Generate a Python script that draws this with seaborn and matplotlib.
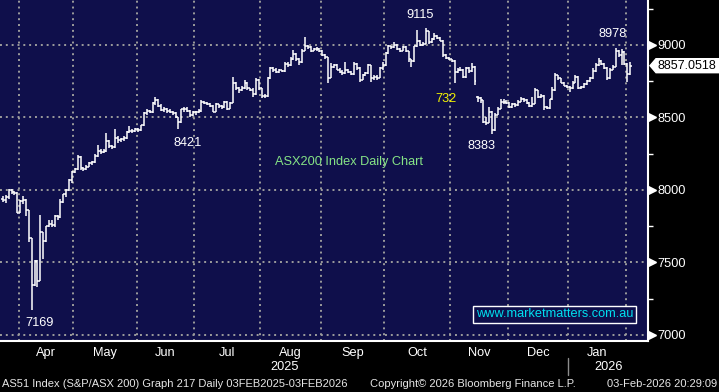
import numpy as np
import pandas as pd
import matplotlib
matplotlib.use("Agg")
import matplotlib.pyplot as plt
import matplotlib.transforms as mtransforms
from matplotlib.patches import Polygon
import seaborn as sns

# ASX trading sessions shown on the chart (24 Mar 2025 - 3 Feb 2026)
start_date = "2025-03-24"
end_date = "2026-02-03"
asx_holidays = ["2025-04-18", "2025-04-21", "2025-04-25", "2025-06-09",
                "2025-12-25", "2025-12-26", "2026-01-01", "2026-01-26"]

# daily OHLC (one row per month)
opens = [
    7940, 7930, 7950, 7999, 7985, 7980,
    7843, 7925, 7934, 7859, 7667, 7344, 7510, 7375, 7709, 7646, 7749, 7762, 7758, 7819, 7816, 7920, 7969, 7997, 8071,
    8126, 8145, 8230, 8150, 8145, 8160, 8185, 8190, 8235, 8270, 8265, 8270, 8340, 8300, 8295, 8360, 8345, 8350, 8355, 8400, 8410, 8405,
    8420, 8415, 8445, 8530, 8545, 8540, 8600, 8620, 8580, 8550, 8560, 8545, 8540, 8530, 8500, 8470, 8555, 8560, 8545, 8515,
    8540, 8535, 8545, 8610, 8600, 8595, 8580, 8540, 8590, 8580, 8570, 8610, 8560, 8600, 8740, 8700, 8690, 8700, 8740, 8700, 8690, 8660, 8760,
    8700, 8650, 8645, 8770, 8840, 8830, 8815, 8825, 8820, 8870, 8860, 8900, 8940, 8900, 8880, 8960, 8990, 8985, 8960, 8970, 8975,
    8960, 8930, 8915, 8775, 8850, 8865, 8830, 8815, 8805, 8830, 8815, 8800, 8870, 8840, 8760, 8790, 8810, 8860, 8770, 8780, 8775, 8840,
    8860, 8945, 8990, 8985, 9000, 8975, 8960, 8985, 8960, 8900, 8890, 8990, 9030, 9000, 9010, 9095, 9020, 9040, 9060, 9050, 9030, 8930, 8910,
    8900, 8890, 8815, 8830, 8830, 8780, 8840, 8820, 8850, 8640, 8635, 8620, 8470, 8465, 8540, 8415, 8520, 8560, 8610, 8610,
    8600, 8570, 8590, 8585, 8610, 8630, 8620, 8600, 8580, 8595, 8690, 8640, 8650, 8570, 8565, 8625, 8690, 8790, 8770, 8740, 8720,
    8710, 8700, 8740, 8780, 8700, 8710, 8730, 8750, 8770, 8820, 8860, 8890, 8870, 8840, 8770, 8830, 8850, 8960, 8930, 8950,
    8870, 8800,
]
highs = [
    7960, 7965, 8005, 8005, 7995, 7988,
    7930, 7960, 7940, 7860, 7667, 7520, 7520, 7830, 7710, 7755, 7790, 7795, 7825, 7830, 7935, 7975, 8010, 8075, 8130,
    8150, 8238, 8232, 8160, 8170, 8195, 8200, 8245, 8310, 8280, 8285, 8393, 8345, 8310, 8420, 8370, 8360, 8370, 8410, 8440, 8420, 8430,
    8430, 8450, 8535, 8555, 8552, 8610, 8641, 8625, 8590, 8570, 8565, 8555, 8545, 8535, 8505, 8560, 8575, 8570, 8550, 8545,
    8545, 8560, 8620, 8615, 8605, 8600, 8585, 8600, 8595, 8585, 8615, 8612, 8610, 8780, 8745, 8710, 8715, 8760, 8745, 8705, 8700, 8772, 8765,
    8705, 8660, 8780, 8850, 8848, 8840, 8835, 8830, 8880, 8885, 8915, 8966, 8945, 8910, 8970, 9054, 9000, 8990, 8980, 8985, 8980,
    8965, 8935, 8920, 8876, 8870, 8870, 8840, 8825, 8880, 8835, 8820, 8883, 8875, 8845, 8800, 8815, 8870, 8865, 8795, 8790, 8850, 8885,
    8950, 9000, 8995, 9020, 9005, 8980, 8995, 8990, 8960, 8905, 8995, 9103, 9035, 9020, 9115, 9095, 9050, 9083, 9070, 9055, 9035, 8935, 8915,
    8905, 8895, 8840, 8845, 8835, 8848, 8845, 8876, 8855, 8645, 8640, 8620, 8500, 8572, 8545, 8530, 8570, 8625, 8630, 8620,
    8610, 8600, 8600, 8620, 8640, 8635, 8625, 8605, 8640, 8703, 8690, 8660, 8655, 8580, 8630, 8710, 8807, 8795, 8775, 8745, 8725,
    8715, 8750, 8790, 8785, 8720, 8740, 8760, 8780, 8841, 8876, 8910, 8895, 8875, 8845, 8840, 8865, 8978, 8965, 8975, 8955,
    8875, 8883,
]
lows = [
    7915, 7910, 7940, 7970, 7965, 7839,
    7840, 7900, 7820, 7640, 7169, 7340, 7330, 7375, 7524, 7640, 7745, 7745, 7745, 7790, 7807, 7910, 7950, 7990, 8050,
    8120, 8140, 8138, 8130, 8140, 8155, 8170, 8185, 8228, 8250, 8255, 8265, 8290, 8285, 8290, 8324, 8331, 8340, 8350, 8395, 8395, 8400,
    8400, 8410, 8440, 8520, 8530, 8531, 8586, 8575, 8545, 8540, 8531, 8531, 8520, 8495, 8421, 8465, 8540, 8540, 8503, 8510,
    8520, 8530, 8540, 8590, 8585, 8570, 8538, 8535, 8565, 8560, 8565, 8552, 8555, 8600, 8690, 8670, 8680, 8695, 8690, 8680, 8641, 8655, 8690,
    8634, 8635, 8640, 8765, 8814, 8810, 8810, 8814, 8815, 8845, 8855, 8895, 8890, 8862, 8875, 8960, 8970, 8952, 8955, 8960, 8950,
    8925, 8905, 8738, 8770, 8841, 8825, 8810, 8793, 8800, 8805, 8793, 8795, 8830, 8745, 8755, 8785, 8800, 8745, 8760, 8759, 8770, 8830,
    8855, 8940, 8975, 8980, 8965, 8950, 8955, 8950, 8883, 8848, 8885, 8986, 8990, 8995, 9005, 9010, 9015, 9035, 9040, 9025, 8917, 8900, 8895,
    8880, 8738, 8810, 8820, 8772, 8775, 8810, 8815, 8724, 8607, 8600, 8462, 8448, 8460, 8383, 8410, 8515, 8555, 8595, 8590,
    8566, 8565, 8575, 8580, 8605, 8610, 8595, 8575, 8575, 8590, 8635, 8635, 8552, 8555, 8560, 8620, 8685, 8760, 8735, 8715, 8700,
    8676, 8695, 8735, 8695, 8695, 8705, 8725, 8745, 8765, 8815, 8855, 8865, 8835, 8759, 8765, 8825, 8845, 8917, 8862, 8862,
    8745, 8795,
]
closes = [
    7930, 7950, 7999, 7985, 7980, 7843,
    7925, 7934, 7859, 7667, 7344, 7510, 7375, 7709, 7646, 7749, 7762, 7758, 7819, 7816, 7920, 7969, 7997, 8071, 8126,
    8145, 8230, 8150, 8145, 8160, 8185, 8190, 8235, 8270, 8265, 8270, 8340, 8300, 8295, 8360, 8345, 8350, 8355, 8400, 8410, 8405, 8420,
    8415, 8445, 8530, 8545, 8540, 8600, 8620, 8580, 8550, 8560, 8545, 8540, 8530, 8500, 8470, 8555, 8560, 8545, 8515, 8540,
    8535, 8545, 8610, 8600, 8595, 8580, 8540, 8590, 8580, 8570, 8610, 8560, 8600, 8740, 8700, 8690, 8700, 8740, 8700, 8690, 8660, 8760, 8700,
    8650, 8645, 8770, 8840, 8830, 8815, 8825, 8820, 8870, 8860, 8900, 8940, 8900, 8880, 8960, 8990, 8985, 8960, 8970, 8975, 8960,
    8930, 8915, 8775, 8850, 8865, 8830, 8815, 8805, 8830, 8815, 8800, 8870, 8840, 8760, 8790, 8810, 8860, 8770, 8780, 8775, 8840, 8860,
    8945, 8990, 8985, 9000, 8975, 8960, 8985, 8960, 8900, 8890, 8990, 9030, 9000, 9010, 9095, 9020, 9040, 9060, 9050, 9030, 8930, 8910, 8900,
    8890, 8815, 8830, 8830, 8780, 8840, 8820, 8850, 8750, 8635, 8620, 8470, 8465, 8540, 8415, 8520, 8560, 8610, 8610, 8600,
    8570, 8590, 8585, 8610, 8630, 8620, 8600, 8580, 8595, 8690, 8640, 8650, 8570, 8565, 8625, 8690, 8790, 8770, 8740, 8720, 8710,
    8700, 8740, 8780, 8700, 8710, 8730, 8750, 8770, 8820, 8860, 8890, 8870, 8840, 8770, 8830, 8850, 8960, 8930, 8950, 8870,
    8800, 8857.0518,
]

price_levels = [7000, 7500, 8000, 8500, 9000]
minor_levels = [7250, 7750, 8250, 8750, 9250]

navy = "#0f0f4b"
grid_grey = "#9c9c9c"

sns.set_theme(style="dark", rc={
    "axes.facecolor": navy,
    "figure.facecolor": "black",
    "savefig.facecolor": "black",
    "text.color": "white",
})
plt.rcParams["font.family"] = ["Liberation Sans", "DejaVu Sans"]

dates = pd.bdate_range(start_date, end_date)
dates = dates[~dates.isin(pd.to_datetime(asx_holidays))]
df = pd.DataFrame({"date": dates, "open": opens, "high": highs,
                   "low": lows, "close": closes})
df["idx"] = np.arange(len(df))
df["month"] = df["date"].dt.to_period("M")

fig = plt.figure(figsize=(7.19, 3.92), dpi=100)
ax = fig.add_axes([0, 51 / 392, 648 / 719, 341 / 392])
ax.set_xlim(-1.0, 224.2)
ax.set_ylim(6958.6, 9310)

# OHLC bars
x = df["idx"].to_numpy()
ax.vlines(x, df["low"], df["high"], color="white", lw=1.1, zorder=3)
ax.hlines(df["open"], x - 0.5, x, color="white", lw=1.1, zorder=3)
ax.hlines(df["close"], x, x + 0.5, color="white", lw=1.1, zorder=3)

# month boundaries / labels
first_idx = df.groupby("month")["idx"].min()
bounds = (first_idx.iloc[1:] - 0.5).to_numpy()
mids = (bounds[:-1] + bounds[1:]) / 2
month_names = [p.strftime("%b") for p in first_idx.index[1:-1]]

ax.set_xticks(bounds, labels=[""] * len(bounds))
ax.set_xticks(mids, labels=month_names, minor=True)
ax.set_yticks(price_levels, labels=[str(v) for v in price_levels])
ax.set_yticks(minor_levels, minor=True)
ax.yaxis.tick_right()

ax.grid(True, which="major", color=grid_grey, linestyle=(0, (1, 2)), linewidth=1.4)
ax.grid(False, which="minor")
ax.set_axisbelow(True)

ax.tick_params(axis="y", which="major", length=0, pad=6.5, labelsize=9.2, labelcolor="white")
ax.tick_params(axis="y", which="minor", length=3.6, width=1, color="white", direction="out")
ax.tick_params(axis="x", which="major", length=3, width=1.2, color="white", direction="out")
ax.tick_params(axis="x", which="minor", length=0, pad=4, labelsize=9.2, labelcolor="white")

for side in ["top", "left"]:
    ax.spines[side].set_visible(False)
for side in ["right", "bottom"]:
    ax.spines[side].set_visible(True)
    ax.spines[side].set_color("white")
    ax.spines[side].set_linewidth(1.5)

# arrow heads at the major price levels
tri_trans = mtransforms.offset_copy(ax.get_yaxis_transform(), fig=fig, x=4, units="dots")
ax.plot(np.ones(len(price_levels)), price_levels, ls="none", marker=">", ms=6,
        color="white", transform=tri_trans, clip_on=False)

# year labels under the month labels
xlo, xhi = ax.get_xlim()
jan_bound = bounds[list(first_idx.index[1:]).index(pd.Period("2026-01", "M"))]
ax.text((xlo + jan_bound) / 2, -0.076, "2025", transform=ax.get_xaxis_transform(),
        ha="center", va="center", fontsize=9.2, color="white")
ax.text((jan_bound + xhi) / 2, -0.076, "2026", transform=ax.get_xaxis_transform(),
        ha="center", va="center", fontsize=9.2, color="white")
ax.plot([jan_bound, jan_bound], [-0.05, -0.1], color="#8c8c8c", lw=1,
        transform=ax.get_xaxis_transform(), clip_on=False)

# high / low annotations
def mark(row, value, dx, dy):
    ax.annotate(f"{value:.0f}", xy=(row["idx"], value), xytext=(dx, dy),
                textcoords="offset pixels", ha="center", va="center",
                fontsize=9.2, color="white")

top = df.loc[df["high"].idxmax()]
mark(top, top["high"], -6, 13)
jan = df[df["month"] == pd.Period("2026-01", "M")]
top_jan = jan.loc[jan["high"].idxmax()]
mark(top_jan, top_jan["high"], -3, 14)
midyear = df[(df["date"] >= "2025-06-16") & (df["date"] <= "2025-07-31")]
low_mid = midyear.loc[midyear["low"].idxmin()]
mark(low_mid, low_mid["low"], 9, -14)
nov = df[df["month"] == pd.Period("2025-11", "M")]
low_nov = nov.loc[nov["low"].idxmin()]
mark(low_nov, low_nov["low"], -11, -12)
bottom = df.loc[df["low"].idxmin()]
mark(bottom, bottom["low"], 8, -12.5)

ax.text(0.688, 0.710, "732", transform=ax.transAxes, ha="center", va="center",
        fontsize=9.2, color="#f2f200")
ax.text(0.539, 0.525, "ASX200 Index Daily Chart", transform=ax.transAxes,
        ha="center", va="center", fontsize=9.2, color="#86e486")
ax.text(0.856, 0.079, "www.marketmatters.com.au", transform=ax.transAxes,
        ha="center", va="center", fontsize=9.2, color="#00e0f0",
        bbox=dict(boxstyle="square,pad=0.2", fc=navy, ec="white", lw=1))

# last price tag
last = df["close"].iloc[-1]
ident = mtransforms.IdentityTransform()
yc = ax.transData.transform((0, last))[1]
xr = ax.transAxes.transform((1, 0))[0]
tag = Polygon([(xr + 2, yc), (xr + 8, yc + 7), (722, yc + 7), (722, yc - 7), (xr + 8, yc - 7)],
              closed=True, fc="white", ec="white", transform=ident)
fig.add_artist(tag)
fig.text(xr + 9, yc, f"{last:.4f}", transform=ident, ha="left", va="center",
         fontsize=9, color="black")

# footer
foot = dict(fontsize=8, color="#e6e6e6", va="center")
fig.text(2 / 719, 1 - 384 / 392, "AS51 Index (S&P/ASX 200) Graph 217 Daily 03FEB2025-03FEB2026", **foot)
fig.text(370 / 719, 1 - 384 / 392, "Copyright\u00a9 2026 Bloomberg Finance L.P.", **foot)
fig.text(717 / 719, 1 - 384 / 392, "03-Feb-2026 20:29:09", ha="right", **foot)

fig.savefig("out.png", dpi=100)
